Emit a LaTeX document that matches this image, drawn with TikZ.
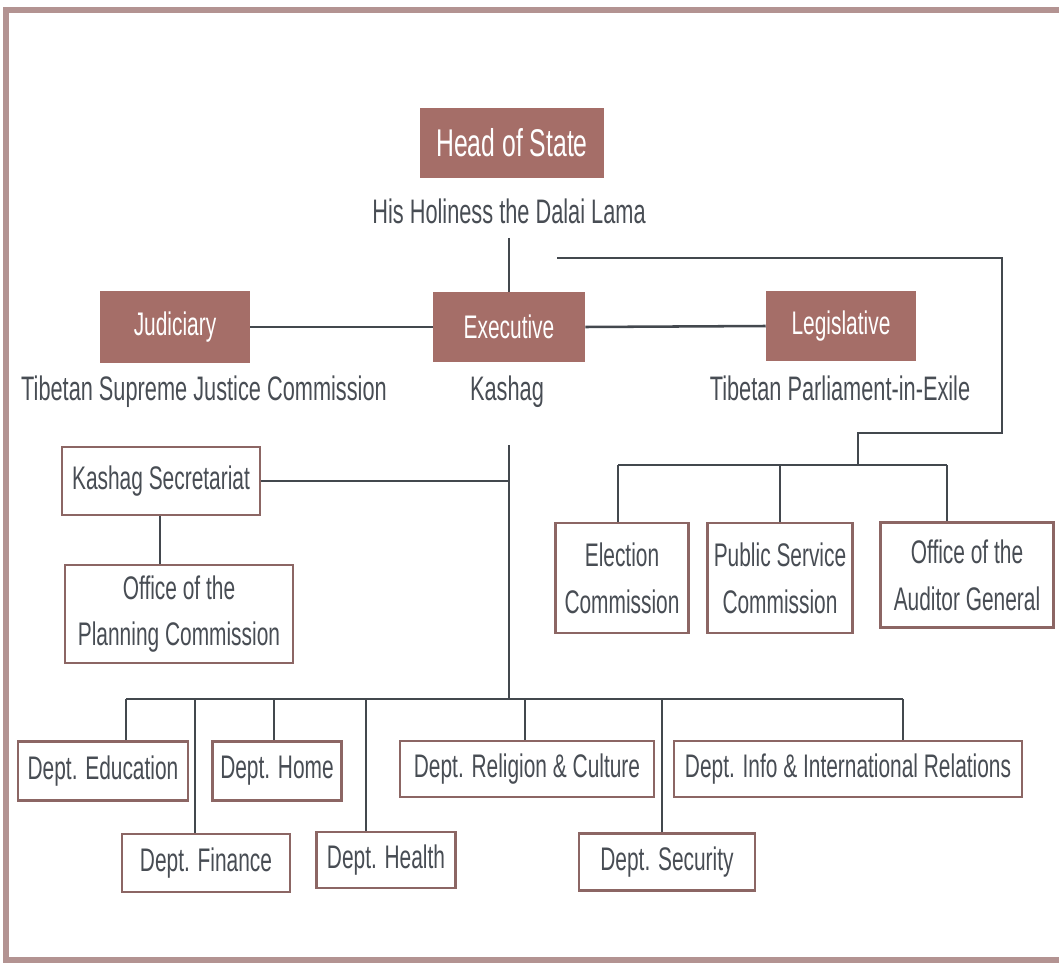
\documentclass[tikz,border=0pt]{standalone}
\usepackage{fontspec}
\setmainfont{Liberation Sans}[FakeStretch=0.64]
\definecolor{pGovFill}{HTML}{A56E68}
\definecolor{pBoxLine}{HTML}{8C6664}
\definecolor{pInk}{HTML}{484D54}
\definecolor{pLine}{HTML}{43484E}
\definecolor{pFrame}{HTML}{B39392}
\newcommand{\pOrgFont}{\fontsize{24.5}{35}\selectfont}
\newcommand{\pBigFont}{\fontsize{25.5}{30}\selectfont}
\newcommand{\pHeadFont}{\fontsize{29}{32}\selectfont}

\begin{document}
\begin{tikzpicture}[x=0.75pt,y=-0.75pt,
  govbox/.style={fill=pGovFill, text=white, inner sep=0pt, font=\pOrgFont},
  unitbox/.style={draw=pBoxLine, line width=2.2pt, fill=white, text=pInk, inner sep=0pt, align=center, font=\pOrgFont},
  caption/.style={text=pInk, inner sep=0pt, font=\pBigFont},
  link/.style={draw=pLine, line width=1.9pt}]
\useasboundingbox (0,0) rectangle (1059,966);
\draw[pFrame, line width=4pt] (1059,10) -- (6,10) -- (6,960) -- (1059,960);

\node[govbox, minimum width=138pt, minimum height=52.5pt, font=\pHeadFont] (head) at (512,143) {Head of State};
\node[caption] (dalai) at (509,211) {His Holiness the Dalai Lama};
\node[govbox, minimum width=112.5pt, minimum height=54pt] (jud) at (175,327) {Judiciary};
\node[govbox, minimum width=114pt, minimum height=52.5pt] (exec) at (509,327) {Executive};
\node[govbox, minimum width=112.5pt, minimum height=53pt] (leg) at (841,326) {Legislative};
\node[caption] (justice) at (204,392) {Tibetan Supreme Justice Commission};
\node[caption] (kashag) at (507,392) {Kashag};
\node[caption] (parl) at (840,388) {Tibetan Parliament-in-Exile};

\node[unitbox, minimum width=148.5pt, minimum height=51pt] (ksec) at (161,481) {Kashag Secretariat};
\node[unitbox, minimum width=171pt, minimum height=73.5pt] (plan) at (179,614) {Office of the\\Planning Commission};
\node[unitbox, minimum width=100pt, minimum height=82.5pt] (elec) at (622,578) {Election\\Commission};
\node[unitbox, minimum width=109pt, minimum height=82.5pt] (psc) at (780,578) {Public Service\\Commission};
\node[unitbox, minimum width=130pt, minimum height=79pt] (aud) at (967,575) {Office of the\\Auditor General};

\node[unitbox, minimum width=127.5pt, minimum height=44pt] (edu) at (103,771) {Dept. Education};
\node[unitbox, minimum width=97pt, minimum height=44pt] (home) at (277,771) {Dept. Home};
\node[unitbox, minimum width=190.5pt, minimum height=42pt] (rel) at (527,769) {Dept. Religion \& Culture};
\node[unitbox, minimum width=261pt, minimum height=42pt] (info) at (848,769) {Dept. Info \& International Relations};
\node[unitbox, minimum width=126pt, minimum height=43.5pt] (fin) at (206,863) {Dept. Finance};
\node[unitbox, minimum width=104pt, minimum height=42pt] (health) at (386,860) {Dept. Health};
\node[unitbox, minimum width=132pt, minimum height=43pt] (sec) at (667,862) {Dept. Security};

\coordinate (hsTop) at (509,238);
\coordinate (pStart) at (557,258);
\coordinate (lBus) at (858,465);
\coordinate (kTop) at (509,445);
\coordinate (dBus) at (509,699);

\draw[link] (hsTop) -- (exec.north);
\draw[link] (jud.east) -- (exec.west);
\draw[link] (exec.east) -- (leg.west);
\draw[link] (pStart) -| (1002,433) -| (lBus);
\draw[link] (618,465) -- (947,465);
\foreach \px/\nd in {618/elec,780/psc,947/aud}
  \draw[link] (\px,465) -- (\px,465 |- \nd.north);

\draw[link] (kTop) -- (dBus);
\draw[link] (ksec.east) -- (ksec.east -| kTop);
\draw[link] (ksec.south -| 160,0) -- (160,0 |- plan.north);
\draw[link] (126,699) -- (903,699);
\foreach \px/\nd in {126/edu,195/fin,274/home,366/health,525/rel,662/sec,903/info}
  \draw[link] (\px,699) -- (\px,699 |- \nd.north);
\end{tikzpicture}
\end{document}
